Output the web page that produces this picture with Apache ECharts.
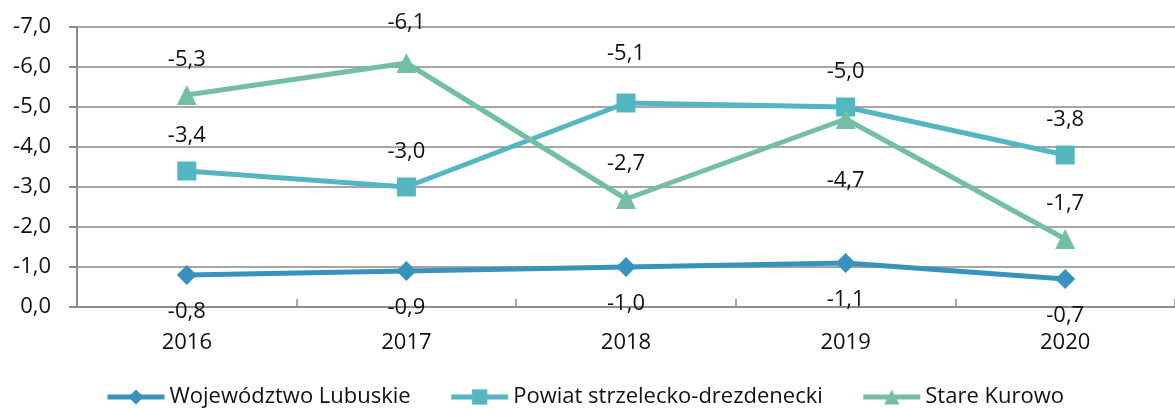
<!DOCTYPE html>
<html>
<head>
<meta charset="utf-8">
<script src="https://cdn.jsdelivr.net/npm/echarts@6/dist/echarts.min.js"></script>
<style>
    html, body { margin: 0; padding: 0; background: #fff; }
    #chart { width: 1175px; height: 409px; }
</style>
</head>
<body>
<div id="chart"></div>
<script>
const years = ['2016', '2017', '2018', '2019', '2020'];
const lubuskie = [-0.8, -0.9, -1.0, -1.1, -0.7];
const powiat = [-3.4, -3.0, -5.1, -5.0, -3.8];
const stareKurowo = [-5.3, -6.1, -2.7, -4.7, -1.7];

const fmt = v => v.toFixed(1).replace('.', ',');
const font = '"Open Sans", Lato, sans-serif';

// a few labels sit a bit further from their points in the original
function withLabels(arr, pos, overrides) {
    return arr.map((v, i) => {
        const o = overrides[i];
        if (!o) return v;
        return { value: v, label: { position: o.pos || pos, distance: o.dist } };
    });
}

const chart = echarts.init(document.getElementById('chart'));

const labelBase = {
    show: true,
    fontSize: 22,
    fontFamily: font,
    color: '#111',
    formatter: p => fmt(p.value)
};

chart.setOption({
    animation: false,
    textStyle: { fontFamily: font },
    grid: { left: 77, top: 27, width: 1108, height: 280 },
    xAxis: {
        type: 'category',
        data: years,
        boundaryGap: true,
        axisLine: { lineStyle: { color: '#8c8c8c', width: 2 } },
        axisTick: { show: true, inside: true, length: 8, lineStyle: { color: '#8c8c8c', width: 1.5 } },
        axisLabel: { fontSize: 22, color: '#111', margin: 25, fontFamily: font }
    },
    yAxis: {
        type: 'value',
        inverse: true,
        min: -7,
        max: 0,
        interval: 1,
        axisLine: { show: true, lineStyle: { color: '#8c8c8c', width: 2 } },
        axisTick: { show: true, length: 8, lineStyle: { color: '#8c8c8c', width: 2 } },
        splitLine: { lineStyle: { color: '#a6a6a6', width: 2 } },
        axisLabel: { fontSize: 22, color: '#111', margin: 26, fontFamily: font, formatter: v => fmt(v) }
    },
    legend: {
        bottom: -4,
        left: 100,
        itemWidth: 57,
        itemHeight: 19,
        itemGap: 38,
        lineStyle: { width: 5 },
        textStyle: { fontSize: 22, color: '#111', fontFamily: font },
        data: ['Województwo Lubuskie', 'Powiat strzelecko-drezdenecki', 'Stare Kurowo']
    },
    series: [
        {
            name: 'Województwo Lubuskie',
            type: 'line',
            data: lubuskie,
            symbol: 'diamond',
            symbolSize: 20,
            color: '#3793be',
            lineStyle: { width: 5 },
            label: Object.assign({}, labelBase, { position: 'bottom', distance: 16 })
        },
        {
            name: 'Powiat strzelecko-drezdenecki',
            type: 'line',
            data: withLabels(powiat, 'top', { 2: { dist: 29 } }),
            symbol: 'rect',
            symbolSize: 19,
            color: '#53b7c1',
            lineStyle: { width: 5 },
            label: Object.assign({}, labelBase, { position: 'top', distance: 15 })
        },
        {
            name: 'Stare Kurowo',
            type: 'line',
            data: withLabels(stareKurowo, 'top', { 1: { dist: 19 }, 3: { pos: 'bottom', dist: 41 } }),
            symbol: 'triangle',
            symbolSize: 20,
            color: '#72bfa3',
            lineStyle: { width: 5 },
            label: Object.assign({}, labelBase, { position: 'top', distance: 14 })
        }
    ]
});
</script>
</body>
</html>
